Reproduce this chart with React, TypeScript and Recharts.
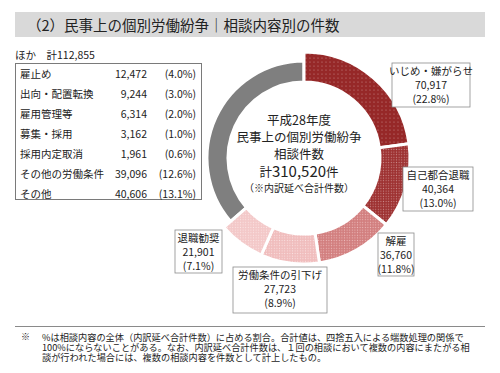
import { PieChart, Pie, Cell } from 'recharts';

// 相談内容別の件数 (平成28年度)
const categories = ['いじめ・嫌がらせ', '自己都合退職', '解雇', '労働条件の引下げ', '退職勧奨', 'ほか'];
const counts = [70917, 40364, 36760, 27723, 21901, 112855];
const shares = ['22.8%', '13.0%', '11.8%', '8.9%', '7.1%', '36.3%'];

// ほか の内訳
const otherNames = ['雇止め', '出向・配置転換', '雇用管理等', '募集・採用', '採用内定取消', 'その他の労働条件', 'その他'];
const otherCounts = [12472, 9244, 6314, 3162, 1961, 39096, 40606];
const otherShares = ['4.0%', '3.0%', '2.0%', '1.0%', '0.6%', '12.6%', '13.1%'];

const data = categories.map((name, i) => ({ name, value: counts[i], share: shares[i] }));
const total = counts.reduce((a, b) => a + b, 0);
const otherTotal = otherCounts.reduce((a, b) => a + b, 0);

const fills = ['url(#p0)', 'url(#p1)', 'url(#p2)', 'url(#p3)', 'url(#p4)', '#7f7f7f'];

// label boxes, relative to the pie centre: [dx, dy, w, h]
const boxes = [
  [88, -95, 78, 44],
  [99, 9, 70, 44],
  [74, 75, 36, 43],
  [-71, 109, 94, 46],
  [-129, 72, 47, 43],
];

const FONT = "'Noto Sans CJK JP', 'Noto Sans', sans-serif";
const fmt = (n: number) => n.toLocaleString('en-US');

const renderLabel = (props: any) => {
  const { cx, cy, index, payload } = props;
  if (index >= boxes.length) return null;
  const [dx, dy, w, h] = boxes[index];
  const x = cx + dx;
  const y = cy + dy;
  const mx = x + w / 2;
  const item = payload && payload.name ? payload : data[index];
  return (
    <g key={`lb-${index}`}>
      <rect x={x} y={y} width={w} height={h} fill="#fff" stroke="#8c8c8c" strokeWidth={0.8} />
      <text x={mx} y={y + 12} textAnchor="middle" fontSize={10.5} fill="#222" fontFamily={FONT}>
        {item.name}
      </text>
      <text x={mx} y={y + 26} textAnchor="middle" fontSize={10.5} fill="#222" fontFamily={FONT}>
        {fmt(item.value)}
      </text>
      <text x={mx} y={y + 40} textAnchor="middle" fontSize={10.5} fill="#222" fontFamily={FONT}>
        ({item.share})
      </text>
    </g>
  );
};

const dotPattern = (id: string, base: string, dot: string, size: number) => (
  <pattern id={id} width={size} height={size} patternUnits="userSpaceOnUse">
    <rect width={size} height={size} fill={base} />
    <circle cx={size / 2} cy={size / 2} r={0.6} fill={dot} />
  </pattern>
);

const CX = 299;
const CY = 153;

export default function App() {
  return (
    <div
      style={{
        position: 'absolute',
        left: 0,
        top: 0,
        width: 500,
        height: 373,
        background: '#fff',
        fontFamily: FONT,
        color: '#222',
        overflow: 'hidden',
      }}
    >
      {/* title bar */}
      <div
        style={{
          position: 'absolute',
          left: 15,
          top: 12,
          width: 470,
          height: 25,
          background: '#d9d9d9',
          fontSize: 14.5,
          lineHeight: '25px',
          paddingLeft: 12,
          boxSizing: 'border-box',
          whiteSpace: 'nowrap',
        }}
      >
        （2）民事上の個別労働紛争｜相談内容別の件数
      </div>

      <div style={{ position: 'absolute', left: 0, top: 0 }}>
        <PieChart width={500} height={373}>
          <defs>
            {dotPattern('p0', '#962828', '#c98787', 4)}
            {dotPattern('p1', '#9e3232', '#c98888', 2.6)}
            {dotPattern('p2', '#d27f7f', '#ebb9b9', 2.6)}
            {dotPattern('p3', '#f0bdbd', '#f9e0e0', 2.6)}
            {dotPattern('p4', '#f3c8c8', '#fbe4e4', 2.6)}
          </defs>
          <Pie
            data={data}
            dataKey="value"
            cx={CX}
            cy={CY}
            innerRadius={76}
            outerRadius={97}
            startAngle={90}
            endAngle={-270}
            stroke="#fff"
            strokeWidth={3}
            isAnimationActive={false}
          >
            {data.map((d, i) => (
              <Cell key={d.name} fill={i === 5 ? fills[i] : 'none'} stroke={i === 5 ? '#fff' : 'none'} />
            ))}
          </Pie>
          <Pie
            data={data}
            dataKey="value"
            cx={CX}
            cy={CY}
            innerRadius={76}
            outerRadius={106}
            startAngle={90}
            endAngle={-270}
            stroke="#fff"
            strokeWidth={3}
            labelLine={false}
            label={renderLabel}
            isAnimationActive={false}
          >
            {data.map((d, i) => (
              <Cell key={d.name} fill={i === 5 ? 'none' : fills[i]} stroke={i === 5 ? 'none' : '#fff'} />
            ))}
          </Pie>
        </PieChart>
      </div>

      {/* centre text */}
      <div
        style={{
          position: 'absolute',
          left: CX - 80,
          top: 111,
          width: 160,
          textAlign: 'center',
          whiteSpace: 'nowrap',
        }}
      >
        <div style={{ fontSize: 12.5, lineHeight: '17px' }}>平成28年度</div>
        <div style={{ fontSize: 12.5, lineHeight: '17px' }}>民事上の個別労働紛争</div>
        <div style={{ fontSize: 12.5, lineHeight: '17px' }}>相談件数</div>
        <div style={{ fontSize: 12.5, lineHeight: '17px' }}>
          計<span style={{ fontSize: 15, lineHeight: '17px' }}>{fmt(total)}</span>件
        </div>
        <div style={{ fontSize: 10, lineHeight: '16px' }}>（※内訳延べ合計件数）</div>
      </div>

      {/* breakdown of ほか */}
      <div style={{ position: 'absolute', left: 15, top: 47, fontSize: 10.5, whiteSpace: 'nowrap' }}>
        ほか　計{fmt(otherTotal)}
      </div>
      <div
        style={{
          position: 'absolute',
          left: 15,
          top: 63,
          width: 187,
          height: 137,
          border: '1px solid #7a7a7a',
          boxSizing: 'border-box',
          background: '#fff',
          fontSize: 10.5,
        }}
      >
        {otherNames.map((n, i) => (
          <div key={n} style={{ position: 'absolute', left: 0, top: i * 20, width: 185, height: 20, lineHeight: '20px', whiteSpace: 'nowrap' }}>
            <span style={{ position: 'absolute', left: 4 }}>{n}</span>
            <span style={{ position: 'absolute', right: 54 }}>{fmt(otherCounts[i])}</span>
            <span style={{ position: 'absolute', right: 5 }}>({otherShares[i]})</span>
          </div>
        ))}
      </div>

      {/* note */}
      <div style={{ position: 'absolute', left: 15, top: 326, width: 470, borderTop: '1px solid #8a8a8a' }} />
      <div style={{ position: 'absolute', left: 21, top: 332, fontSize: 9, lineHeight: '10px' }}>※</div>
      <div style={{ position: 'absolute', left: 42, top: 332, fontSize: 9.2, lineHeight: '10px', whiteSpace: 'nowrap' }}>
        <div>%は相談内容の全体（内訳延べ合計件数）に占める割合。合計値は、四捨五入による端数処理の関係で</div>
        <div>100%にならないことがある。なお、内訳延べ合計件数は、１回の相談において複数の内容にまたがる相</div>
        <div>談が行われた場合には、複数の相談内容を件数として計上したもの。</div>
      </div>
    </div>
  );
}
